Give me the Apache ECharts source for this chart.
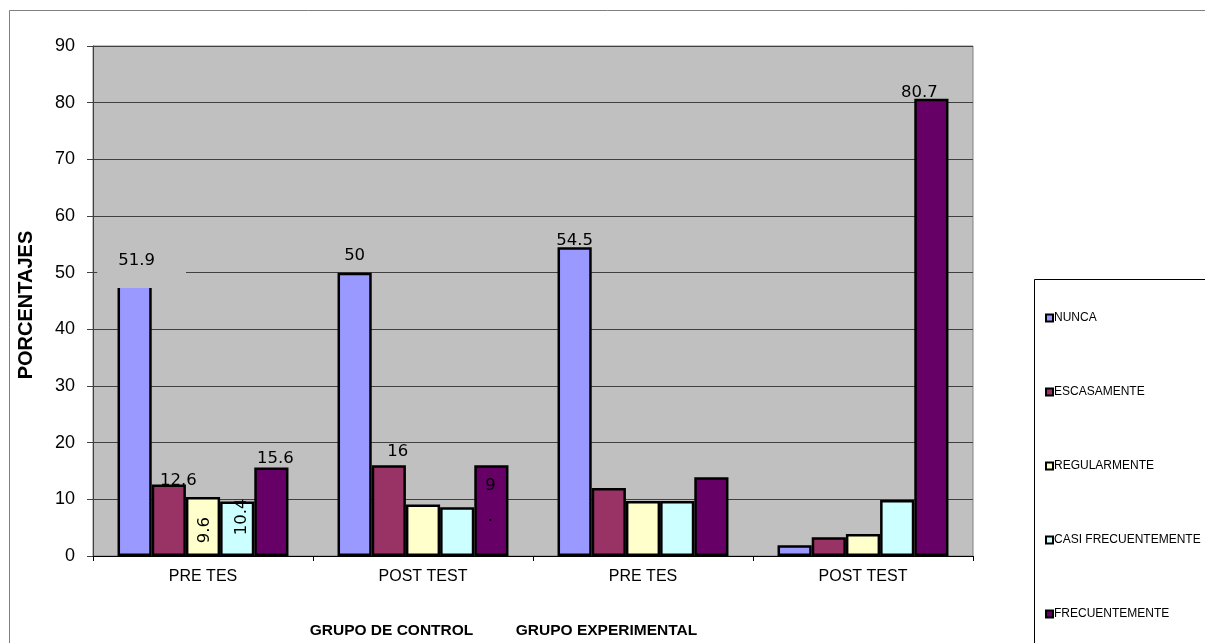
<!DOCTYPE html>
<html><head><meta charset="utf-8">
<script src="https://cdn.jsdelivr.net/npm/echarts@6/dist/echarts.min.js"></script>
<style>html,body{margin:0;padding:0;background:#fff}#c{width:1205px;height:643px}</style>
</head><body><div id="c"></div>
<script>
const categories = ['PRE TES', 'POST TEST', 'PRE TES', 'POST TEST'];
const seriesNames = ['NUNCA', 'ESCASAMENTE', 'REGULARMENTE', 'CASI FRECUENTEMENTE', 'FRECUENTEMENTE'];
const nunca = [51.9, 50, 54.5, 1.9];
const escasamente = [12.6, 16, 12, 3.3];
const regularmente = [10.4, 9.1, 9.7, 3.9];
const casiFrecuentemente = [9.6, 8.6, 9.7, 9.9];
const frecuentemente = [15.6, 16, 13.9, 80.7];
// data-label texts as printed on the original chart ('' = no label)
const labelsNunca = ['51.9', '50', '54.5', ''];
const labelsEscasamente = ['12.6', '16', '', ''];
const labelsRegularmente = ['9.6', '', '', ''];
const labelsCasi = ['10.4', '', '', ''];
const labelsFrecuentemente = ['15.6', '9\n.', '', '80.7'];
const yMin = 0, yMax = 90, yInterval = 10;
const yTitle = 'PORCENTAJES';
const groupTitles = ['GRUPO DE CONTROL', 'GRUPO EXPERIMENTAL'];

const colors = ['#9999FF', '#993366', '#FFFFCC', '#CCFFFF', '#660066'];
const values = [nunca, escasamente, regularmente, casiFrecuentemente, frecuentemente];
const texts = [labelsNunca, labelsEscasamente, labelsRegularmente, labelsCasi, labelsFrecuentemente];

const LF = 'DejaVu Sans';
// label placement (style only)
const labelStyle = [
  [
    {position: 'top', offset: [7, 31], backgroundColor: '#C0C0C0', padding: [19, 31, 19, 21]},
    {position: 'top', offset: [0, -3]},
    {position: 'top', offset: [0, 7.5]},
    null
  ],
  [
    {position: 'top', offset: [9.5, 10]},
    {position: 'top', offset: [9, 0]},
    null, null
  ],
  [
    {position: 'inside', rotate: 90, offset: [-3.5, 2]},
    null, null, null
  ],
  [
    {position: 'inside', rotate: 90, offset: [12, 5]},
    null, null, null
  ],
  [
    {position: 'top', offset: [4, 5]},
    {position: 'insideTop', offset: [-1, 0], lineHeight: 31},
    null,
    {position: 'top', offset: [-12, 8]}
  ]
];

const series = seriesNames.map((name, s) => ({
  name: name,
  type: 'bar',
  barGap: '0%',
  barCategoryGap: '22.3%',
  itemStyle: {color: colors[s], borderColor: '#000', borderWidth: 2.5},
  emphasis: {disabled: true},
  data: values[s].map((v, i) => {
    const st = labelStyle[s][i];
    const t = texts[s][i];
    const item = {value: v};
    if (st && t) {
      item.label = Object.assign({
        show: true,
        formatter: () => t,
        color: '#000',
        fontFamily: LF,
        fontSize: 16.5
      }, st);
    } else {
      item.label = {show: false};
    }
    return item;
  })
}));

const chart = echarts.init(document.getElementById('c'), null, {renderer: 'canvas'});
chart.setOption({
  animation: false,
  backgroundColor: '#fff',
  grid: {left: 93, top: 46, right: 232, bottom: 87, show: true,
         backgroundColor: '#C0C0C0', borderColor: '#808080', borderWidth: 1,
         outerBoundsMode: 'none'},
  legend: {
    orient: 'vertical', left: 1040, top: 306,
    itemWidth: 7, itemHeight: 7, itemGap: 60,
    icon: 'rect',
    itemStyle: {borderColor: '#000', borderWidth: 2},
    textStyle: {fontFamily: 'Liberation Sans, Arial', fontSize: 12, color: '#000', lineHeight: 14, padding: [0, 0, 0, -4]},
    data: seriesNames
  },
  xAxis: {
    type: 'category', data: categories,
    axisLine: {lineStyle: {color: '#000', width: 1}},
    axisTick: {show: true, length: 5, lineStyle: {color: '#000'}},
    axisLabel: {fontFamily: 'Liberation Sans, Arial', fontSize: 16, color: '#000', margin: 13}
  },
  yAxis: {
    type: 'value', min: yMin, max: yMax, interval: yInterval,
    name: yTitle, nameLocation: 'middle', nameRotate: 90, nameGap: 57,
    nameTextStyle: {fontFamily: 'Liberation Sans, Arial', fontSize: 20, fontWeight: 'bold', color: '#000', padding: [0, 8, 0, 0]},
    axisLine: {show: true, lineStyle: {color: '#404040', width: 1}},
    axisTick: {show: true, length: 6, lineStyle: {color: '#404040'}},
    axisLabel: {fontFamily: 'Liberation Sans, Arial', fontSize: 18, color: '#000', margin: 18},
    splitLine: {show: true, lineStyle: {color: '#404040', width: 1}}
  },
  graphic: [
    {type: 'rect', z: -10, silent: true, shape: {x: 9.5, y: 10.5, width: 1400, height: 900},
     style: {fill: 'none', stroke: '#808080', lineWidth: 1}},
    {type: 'rect', z: 1, silent: true, shape: {x: 1034.5, y: 279.5, width: 400, height: 500},
     style: {fill: '#fff', stroke: '#000', lineWidth: 1}},
    {type: 'text', z: 5, silent: true, x: 391.5, y: 631,
     style: {text: groupTitles[0], font: 'bold 15.5px "Liberation Sans", Arial', fill: '#000', textAlign: 'center', textVerticalAlign: 'middle'}},
    {type: 'text', z: 5, silent: true, x: 606.5, y: 631,
     style: {text: groupTitles[1], font: 'bold 15.5px "Liberation Sans", Arial', fill: '#000', textAlign: 'center', textVerticalAlign: 'middle'}}
  ],
  series: series
});
</script></body></html>
